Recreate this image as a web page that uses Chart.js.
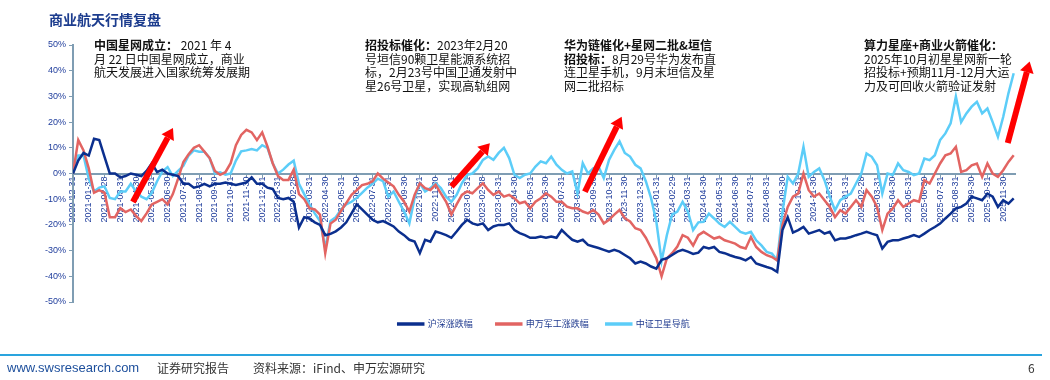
<!DOCTYPE html>
<html><head><meta charset="utf-8">
<script src="https://cdn.jsdelivr.net/npm/chart.js@4/dist/chart.umd.min.js"></script>
<style>
html,body{margin:0;padding:0;background:#fff;width:1050px;height:380px;overflow:hidden;font-family:"Noto Sans CJK SC","Microsoft YaHei",sans-serif;}
#wrap{position:relative;width:1050px;height:380px;}
canvas{position:absolute;left:0;top:0;}
.title{position:absolute;left:49px;top:9px;font-size:14px;font-weight:bold;color:#1c3c8e;line-height:20px;white-space:nowrap;}
.note{position:absolute;top:38px;font-size:12px;line-height:13.7px;color:#111;white-space:nowrap;}
.note b{font-weight:bold;}
.rule{position:absolute;left:0;top:354px;width:1042px;height:2px;background:#2aa4de;}
.foot{position:absolute;top:360px;font-size:12px;line-height:16px;color:#333;white-space:nowrap;}
</style></head>
<body><div id="wrap">
<canvas id="c" width="1050" height="380"></canvas>
<div class="title">商业航天行情复盘</div>
<div class="note" style="left:94px"><b>中国星网成立：</b> 2021 年 4<br>月 22 日中国星网成立，商业<br>航天发展进入国家统筹发展期</div>
<div class="note" style="left:365px"><b>招投标催化：</b>2023年2月20<br>号垣信90颗卫星能源系统招<br>标，2月23号中国卫通发射中<br>星26号卫星，实现高轨组网</div>
<div class="note" style="left:564px"><b>华为链催化+星网二批&amp;垣信<br>招投标：</b>8月29号华为发布直<br>连卫星手机，9月末垣信及星<br>网二批招标</div>
<div class="note" style="left:864px"><b>算力星座+商业火箭催化：</b><br>2025年10月初星星网新一轮<br>招投标+预期11月-12月大运<br>力及可回收火箭验证发射</div>
<div class="rule"></div>
<div class="foot" style="left:7px;color:#1d4f9c;font-family:'Liberation Sans',Arial,sans-serif;font-size:13px;">www.swsresearch.com</div>
<div class="foot" style="left:157px;">证券研究报告</div>
<div class="foot" style="left:253px;">资料来源：iFind、申万宏源研究</div>
<div class="foot" style="left:1028px;">6</div>
</div>
<script>
// Month-end tick labels (one per month)
const monthLabels = [
 "2020-12-31",
 "2021-01-31","2021-02-28","2021-03-31","2021-04-30","2021-05-31","2021-06-30","2021-07-31","2021-08-31","2021-09-30","2021-10-31","2021-11-30","2021-12-31",
 "2022-01-31","2022-02-28","2022-03-31","2022-04-30","2022-05-31","2022-06-30","2022-07-31","2022-08-31","2022-09-30","2022-10-31","2022-11-30","2022-12-31",
 "2023-01-31","2023-02-28","2023-03-31","2023-04-30","2023-05-31","2023-06-30","2023-07-31","2023-08-31","2023-09-30","2023-10-31","2023-11-30","2023-12-31",
 "2024-01-31","2024-02-29","2024-03-31","2024-04-30","2024-05-31","2024-06-30","2024-07-31","2024-08-31","2024-09-30","2024-10-31","2024-11-30","2024-12-31",
 "2025-01-31","2025-02-28","2025-03-31","2025-04-30","2025-05-31","2025-06-30","2025-07-31","2025-08-31","2025-09-30","2025-10-31","2025-11-30"
];
const yTicks = [-50,-40,-30,-20,-10,0,10,20,30,40,50];
const seriesNames = ["沪深涨跌幅","申万军工涨跌幅","中证卫星导航"];
const samplesPerMonth = 3;

// 沪深涨跌幅 (%), sampled ~every 10 days from 2020-12-31
const hs300 = [
 0,5,8,7,13.5,13,6.5,0,0,-1.5,
 -1,0,-0.5,-1,1,4,0.5,1.5,0,-0.5,
 -1,-4,-4,-5.5,-5,-4,-5,-4,-4,-3.5,
 -4,-4.5,-4,-3.5,-1.5,-4,-4,-5.5,-6,-9.5,
 -10,-9.5,-11,-21,-17,-17.5,-19,-20,-24,-23.5,
 -22.5,-21,-19,-15.5,-12,-14,-16,-18,-19,-18.5,
 -19.5,-20.6,-22.6,-24,-25.8,-26.5,-31,-25.8,-26.5,-22.6,
 -23.2,-24,-25,-22.6,-20,-18,-19.4,-20,-19.4,-22,
 -20.6,-20,-20,-19.4,-22,-23.2,-24,-25,-25,-24.5,
 -25,-24.5,-25,-22,-24,-25.8,-26.5,-25.8,-27.8,-28.4,
 -29,-29.7,-30.4,-29.7,-30.4,-31.7,-33,-35,-34.3,-35,
 -36.2,-37,-33.6,-33,-31.7,-30.4,-29.7,-30.4,-31.3,-30.8,
 -28.6,-29.2,-28.6,-30.5,-31,-31.8,-32.5,-33,-33.8,-32.5,
 -35,-35.7,-36.4,-37,-38.3,-22,-17,-23,-22,-20.8,
 -23.4,-22.7,-22,-23.4,-22.7,-26,-25.3,-25.3,-24.7,-24,
 -23.4,-22.7,-23.4,-24,-29.2,-26.6,-26,-26,-25.3,-24.7,
 -24,-24.7,-23.4,-22,-20.8,-19.5,-17.5,-15.6,-13.6,-13,
 -11.7,-9,-9.7,-10.4,-7.8,-9,-13,-10.4,-11.7,-9.7
];
// 申万军工涨跌幅 (%)
const swDefense = [
 0,13,9,2,-7.5,-6.5,-7.5,-17,-17,-13.5,
 -15,-14,-16.5,-18.5,-15.5,-12,-11,-10,-12,-8,
 -2,4.5,7.5,10,11,8.5,6,1,-0.5,0.5,
 4,11,15,17,16,13,16,10.5,4,-1,
 -2.5,-2.5,1.5,-8,-10,-13.5,-14,-16,-31,-19.5,
 -18,-14.5,-11.5,-8.3,-6.5,-4.5,-4,-3,0,-2,
 -3.5,-5,-8.3,-11,-14.8,-8.3,-3.8,-5.7,-6.4,-4.4,
 -7.7,-11,-16,-12,-8.3,-7,-7.7,-5.7,-3.8,-6.4,
 -8.3,-7,-9,-8.3,-9.6,-11.6,-11,-13.5,-11,-9.6,
 -7.7,-9,-11,-11,-12.9,-13.5,-13.5,-14.8,-15.5,-14.2,
 -16,-19.4,-18,-16,-14.2,-17.4,-18.7,-21.3,-22,-25,
 -29,-33,-40,-33,-31,-28.4,-24,-25,-28,-24,
 -22.7,-24,-25.3,-24.7,-26,-26.6,-27.3,-28.6,-29.2,-24.7,
 -28.6,-30.5,-31.8,-32.5,-33.8,-20,-13,-9,-7.8,0,
 -6.5,-9,-7.8,-10.4,-13,-17,-14.3,-15.6,-13,-10.4,
 -13,-6.5,-9,-13,-22,-15.6,-13.6,-10.4,-13,-11.7,
 -10.4,-11,-2.6,-3.9,0,3.9,7.1,7.8,10.4,0.6,
 1.3,3.2,3.9,-1.3,3.9,0,-1.3,1.3,4.5,7.1
];
// 中证卫星导航 (%)
const satNav = [
 0,7,7,-2,-7,-5.5,-5,-9.5,-10,-7,
 -7,-4,-7,-9,-10,-7.5,-3,0.8,2.5,-1,
 1,3,7,9,8.5,8.5,6,0,0.5,-0.5,
 0,5,8.6,9,9.5,9,11,10,4,0,
 1.5,3.5,5,-4,-8,-12,-15.5,-18.5,-29,-18.5,
 -17,-14,-12,-11,-9.5,-7.5,-5.5,-4,-2,-3,
 -9,-7,-11,-14.8,-19.4,-9.6,-3.8,-7,-5.7,-3.8,
 -5.7,-9,-11,-8.3,-3.8,-0.5,0,2,5.3,6.6,
 5.3,8,10,6,-0.5,-1.8,-0.5,0,2.7,4.7,
 4,6.6,3.4,1.4,0,0.8,-7.7,4,0,2,
 2.7,-1.8,5.3,9.2,12.5,8,6.6,3.4,2,-3,
 -9.6,-18.7,-34,-24,-16,-14.8,-11,-14.8,-22,-19,
 -18.8,-15.6,-17.5,-19.5,-20.8,-18.8,-20.8,-22.7,-23.4,-22.7,
 -26,-28,-30.5,-31.2,-33.8,-15,-1.3,-3.9,0,10.4,
 -1.3,0.6,2,-2.6,-9,-14.3,-10.4,-9,-7.8,-3.9,
 0,7.8,6.5,3.2,-7.8,0,-0.6,3.9,1.3,0.6,
 -0.6,0,5.8,5.2,7.1,13,15.6,19.5,29.9,20,
 23.4,26,27.9,23.4,25.3,20,14.3,22,31.2,39
];
// Arrow annotations in data space: [fromMonth, fromPct, toMonth, toPct]
const arrowAnchors = [
 [3.8,-11.1,6.34,17.7],
 [24.0,-5.1,26.44,11.8],
 [32.47,-7.1,34.8,22.1],
 [59.29,11.9,60.68,43.6]
];

const axisColor = '#7f9db3';
const toPts = arr => arr.map((v,i)=>({x:i/samplesPerMonth, y:v}));

const arrowPlugin = {
  id:'arrows',
  afterDraw(chart){
    const {ctx, scales:{x,y}} = chart;
    ctx.save();
    arrowAnchors.forEach(a=>{
      const x1=x.getPixelForValue(a[0]), y1=y.getPixelForValue(a[1]);
      const x2=x.getPixelForValue(a[2]), y2=y.getPixelForValue(a[3]);
      const ang=Math.atan2(y2-y1,x2-x1);
      const head=11, hw=7;
      const bx=x2-head*Math.cos(ang), by=y2-head*Math.sin(ang);
      ctx.strokeStyle='#ff0000'; ctx.lineWidth=6; ctx.lineCap='butt';
      ctx.beginPath(); ctx.moveTo(x1,y1); ctx.lineTo(bx,by); ctx.stroke();
      ctx.fillStyle='#ff0000'; ctx.beginPath();
      ctx.moveTo(x2,y2);
      ctx.lineTo(bx+hw*Math.sin(ang), by-hw*Math.cos(ang));
      ctx.lineTo(bx-hw*Math.sin(ang), by+hw*Math.cos(ang));
      ctx.closePath(); ctx.fill();
    });
    ctx.restore();
  }
};

new Chart(document.getElementById('c'), {
  type:'line',
  data:{
    datasets:[
      {label:seriesNames[0]+'   ', data:toPts(hs300), borderColor:'#0b2f8e', backgroundColor:'#0b2f8e', borderWidth:2.5, pointRadius:0, tension:0},
      {label:seriesNames[1], data:toPts(swDefense), borderColor:'#e26462', backgroundColor:'#e26462', borderWidth:2.5, pointRadius:0, tension:0},
      {label:seriesNames[2], data:toPts(satNav), borderColor:'#5ccdf8', backgroundColor:'#5ccdf8', borderWidth:2.5, pointRadius:0, tension:0}
    ]
  },
  options:{
    responsive:false, animation:false, devicePixelRatio:1,
    layout:{padding:{left:33,right:35,top:45,bottom:41.5}},
    plugins:{
      legend:{position:'bottom', fullSize:false, align:'center',
        labels:{boxWidth:25, boxHeight:1, padding:17.5, color:'#1f3a8f',
          font:{size:9, family:'"Noto Sans CJK SC","Microsoft YaHei",sans-serif'}}},
      tooltip:{enabled:false}
    },
    scales:{
      x:{type:'linear', position:{y:0}, min:0, max:59.75, z:1,
        border:{color:axisColor, width:2},
        grid:{drawOnChartArea:false, tickLength:3, color:axisColor, lineWidth:1},
        ticks:{stepSize:1, autoSkip:false, includeBounds:false, minRotation:90, maxRotation:90, padding:0,
          color:'#1f3d9c', font:{size:9, family:'"Liberation Sans",Arial,sans-serif'},
          callback:(v)=>Number.isInteger(v)&&monthLabels[v]?monthLabels[v]:''}},
      y:{min:-50, max:50,
        afterFit(s){s.width=40;},
        afterBuildTicks(s){s.ticks=yTicks.map(v=>({value:v}));},
        border:{color:axisColor, width:2},
        grid:{drawOnChartArea:false, tickLength:4, color:axisColor},
        ticks:{color:'#1f3d9c', padding:3, font:{size:9, family:'"Liberation Sans",Arial,sans-serif'},
          callback:(v)=>v+'%'}}
    }
  },
  plugins:[arrowPlugin]
});
</script>
</body></html>
